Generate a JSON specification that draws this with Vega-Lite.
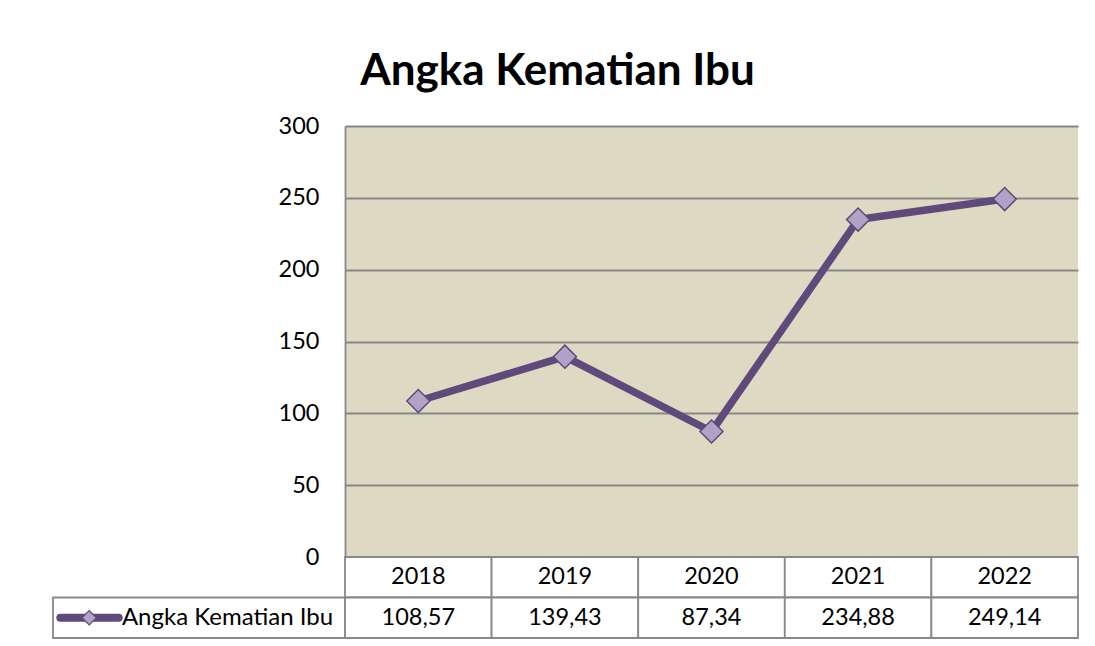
{
  "$schema": "https://vega.github.io/schema/vega-lite/v6.json",
  "padding": {"left": 52, "top": 50, "right": 5, "bottom": 5},
  "background": "white",
  "title": {"text": "Angka Kematian Ibu", "font": "Lato", "fontSize": 44, "fontWeight": "bold", "color": "#000000", "anchor": "middle", "offset": 20, "dx": -8},
  "datasets": {
    "aki": [
      {"tahun": "2018", "nilai": 108.57},
      {"tahun": "2019", "nilai": 139.43},
      {"tahun": "2020", "nilai": 87.34},
      {"tahun": "2021", "nilai": 234.88},
      {"tahun": "2022", "nilai": 249.14}
    ],
    "seri": [{"seri": "Angka Kematian Ibu"}]
  },
  "columns": 2,
  "spacing": 0,
  "bounds": "flush",
  "concat": [
    {
      "width": 292, "height": 431,
      "data": {"values": []},
      "mark": "text",
      "encoding": {}
    },
    {
      "width": 733, "height": 431,
      "view": {"fill": "#DDD9C3", "stroke": null},
      "data": {"name": "aki"},
      "encoding": {
        "x": {"field": "tahun", "type": "nominal", "scale": {"domain": ["2018","2019","2020","2021","2022"], "paddingInner": 0, "paddingOuter": 0}, "axis": null},
        "y": {"field": "nilai", "type": "quantitative", "scale": {"domain": [0, 300], "nice": false},
          "axis": {"values": [0,50,100,150,200,250,300], "ticks": false, "labelPadding": 26, "labelFontSize": 23.5, "labelFont": "Lato", "labelColor": "#000000", "domain": true, "domainColor": "#888888", "domainWidth": 1.8, "grid": true, "gridColor": "#888888", "gridWidth": 1.8, "gridOpacity": 1, "title": null, "format": "d"}}
      },
      "layer": [
        {"mark": {"type": "line", "color": "#604A7B", "strokeWidth": 7.5, "strokeJoin": "round"}},
        {"mark": {"type": "point", "shape": "diamond", "filled": true, "fill": "#B3A2C7", "stroke": "#5F497A", "strokeWidth": 1.5, "size": 530, "opacity": 1}}
      ]
    },
    {
      "width": 292, "height": 81,
      "data": {"name": "seri"},
      "encoding": {
        "y": {"datum": "Nilai", "type": "nominal", "scale": {"domain": ["Tahun", "Nilai"], "paddingInner": 0, "paddingOuter": 0}, "axis": null}
      },
      "layer": [
        {"mark": {"type": "rect", "fill": "white", "stroke": "#888888", "strokeWidth": 1.8},
         "encoding": {"x": {"datum": 0, "type": "quantitative", "scale": {"domain": [0, 1], "nice": false, "zero": false}, "axis": null}, "x2": {"datum": 1}}},
        {"mark": {"type": "rule", "color": "#604A7B", "strokeWidth": 8, "strokeCap": "round"},
         "encoding": {"x": {"datum": 0.025, "type": "quantitative"}, "x2": {"datum": 0.225}}},
        {"mark": {"type": "point", "shape": "diamond", "filled": true, "fill": "#B3A2C7", "stroke": "#5F497A", "strokeWidth": 1.2, "size": 210, "opacity": 1},
         "encoding": {"x": {"datum": 0.124, "type": "quantitative"}}},
        {"mark": {"type": "text", "align": "left", "baseline": "middle", "font": "Lato", "fontSize": 24, "color": "#000000"},
         "encoding": {"x": {"datum": 0.236, "type": "quantitative"}, "text": {"field": "seri"}}}
      ]
    },
    {
      "width": 733, "height": 81,
      "data": {"name": "aki"},
      "encoding": {
        "x": {"field": "tahun", "type": "nominal", "scale": {"domain": ["2018","2019","2020","2021","2022"], "paddingInner": 0, "paddingOuter": 0}, "axis": null}
      },
      "layer": [
        {"mark": {"type": "rect", "fill": "white", "stroke": "#888888", "strokeWidth": 1.8},
         "encoding": {"y": {"datum": "Tahun", "type": "nominal", "scale": {"domain": ["Tahun", "Nilai"], "paddingInner": 0, "paddingOuter": 0}, "axis": null}}},
        {"mark": {"type": "rect", "fill": "white", "stroke": "#888888", "strokeWidth": 1.8},
         "encoding": {"y": {"datum": "Nilai", "type": "nominal"}}},
        {"mark": {"type": "text", "font": "Lato", "fontSize": 23.5, "color": "#000000", "baseline": "middle"},
         "encoding": {"y": {"datum": "Tahun", "type": "nominal"}, "text": {"field": "tahun"}}},
        {"mark": {"type": "text", "font": "Lato", "fontSize": 23.5, "color": "#000000", "baseline": "middle"},
         "encoding": {"y": {"datum": "Nilai", "type": "nominal"}, "text": {"field": "nilai", "type": "quantitative", "format": ".2f"}}}
      ]
    }
  ],
  "config": {
    "view": {"stroke": null},
    "font": "Lato",
    "locale": {"number": {"decimal": ",", "thousands": ".", "grouping": [3], "currency": ["", ""]}}
  }
}
